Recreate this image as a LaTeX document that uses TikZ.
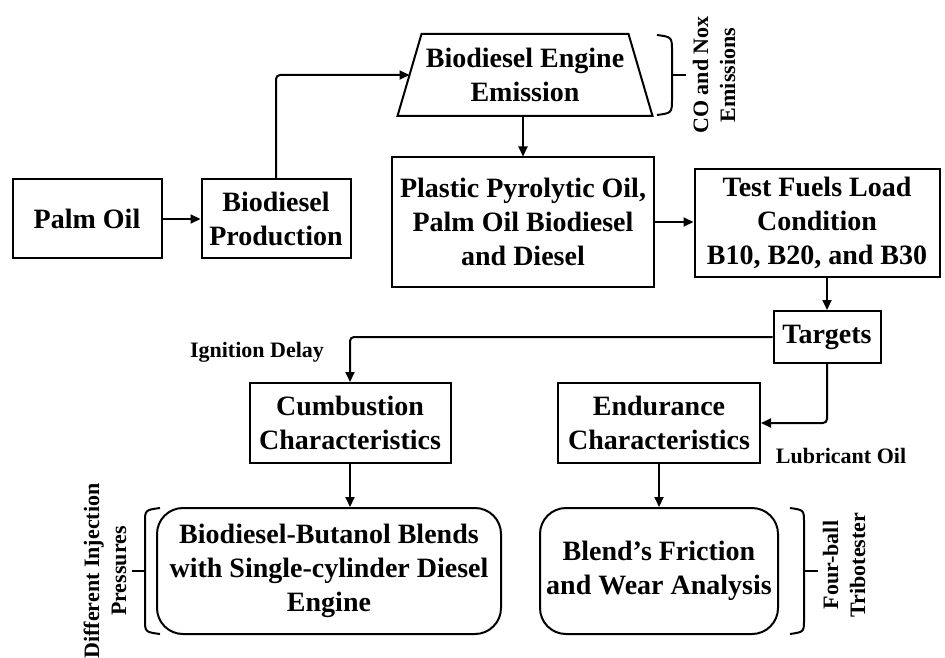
\documentclass[tikz,border=0pt]{standalone}
\usepackage{fontspec}
\setmainfont{Liberation Serif}
\usetikzlibrary{arrows.meta}

\begin{document}
\begin{tikzpicture}[
  x=0.5pt, y=-0.5pt,
  box/.style={
    draw, line width=1pt, align=center, inner sep=2pt,
    font=\fontsize{14}{17}\selectfont\bfseries
  },
  roundbox/.style={box, rounded corners=13pt},
  arrow/.style={-{Triangle[length=5pt,width=4.5pt]}, line width=1pt, rounded corners=2pt},
  note/.style={font=\fontsize{11}{13.5}\selectfont\bfseries, align=center},
  bracket/.style={line width=1pt}
]
\useasboundingbox (0,0) rectangle (945,657);

% --- Production chain (top) ---
\node[box, minimum width=74.5pt, minimum height=39.5pt] (palm) at (87,219) {Palm Oil};
\node[box, minimum width=74.5pt, minimum height=39.5pt] (prod) at (276,219) {Biodiesel\\Production};
\node[box, draw=none, minimum width=126.5pt, minimum height=40pt] (emis) at (525,75) {Biodiesel Engine\\Emission};
\draw[line width=1pt] ([xshift=12pt]emis.north west) -- ([xshift=-12pt]emis.north east)
  -- (emis.south east) -- (emis.south west) -- cycle;
\coordinate (emisin) at ([xshift=6pt]emis.west);
\node[box, minimum width=131pt, minimum height=64.5pt] (plast) at (523,222) {Plastic Pyrolytic Oil,\\Palm Oil Biodiesel\\and Diesel};
\node[box, minimum width=122.5pt, minimum height=53.5pt] (tf) at (817,223) {Test Fuels Load\\Condition\\B10, B20, and B30};

% --- Targets and characteristics ---
\node[box, minimum width=53.5pt, minimum height=26pt] (tg) at (827,337) {Targets};
\node[box, minimum width=100.5pt, minimum height=40pt] (comb) at (350,423) {Cumbustion\\Characteristics};
\node[box, minimum width=101pt, minimum height=40pt] (endu) at (659,423) {Endurance\\Characteristics};

% --- Analysis (bottom) ---
\node[roundbox, minimum width=172pt, minimum height=63pt] (bl1) at (329,571) {Biodiesel-Butanol Blends\\with Single-cylinder Diesel\\Engine};
\node[roundbox, minimum width=119pt, minimum height=63pt] (bl2) at (659,571) {Blend’s Friction\\and Wear Analysis};

% --- Flow arrows ---
\draw[arrow] (palm) -- (prod);
\draw[arrow] (prod.north) |- (emisin);
\draw[arrow] (emis.south -| plast.north) -- (plast.north);
\draw[arrow] (plast.east) -- (plast.east -| tf.west);
\draw[arrow] (tf.south -| tg.north) -- (tg.north);
\draw[arrow] (tg.west) -| (comb.north);
\draw[arrow] (tg.south) |- (endu.east);
\draw[arrow] (comb.south) -- (comb.south |- bl1.north);
\draw[arrow] (endu) -- (bl2);

% --- Brackets ---
\draw[bracket] (657,35) .. controls (672,37) .. (672,52) -- (672,98) .. controls (672,113) .. (657,115);
\draw[bracket] (672,75) -- (686,75);
\draw[bracket] (160,508) .. controls (145,510) .. (145,523) -- (145,619) .. controls (145,632) .. (160,634);
\draw[bracket] (145,571) -- (132,571);
\draw[bracket] (790,508) .. controls (804,510) .. (804,523) -- (804,619) .. controls (804,632) .. (790,634);
\draw[bracket] (804,571) -- (818,571);

% --- Side labels ---
\node[note, rotate=90] (emlab) at (714,75) {CO and Nox\\Emissions};
\node[note, rotate=90] (prlab) at (105,571) {Different Injection\\Pressures};
\node[note, rotate=90] (trlab) at (844,565) {Four-ball\\Tribotester};
\node[note] (iglab) at (257,352) {Ignition Delay};
\node[note] (lulab) at (841,456) {Lubricant Oil};

\end{tikzpicture}
\end{document}
